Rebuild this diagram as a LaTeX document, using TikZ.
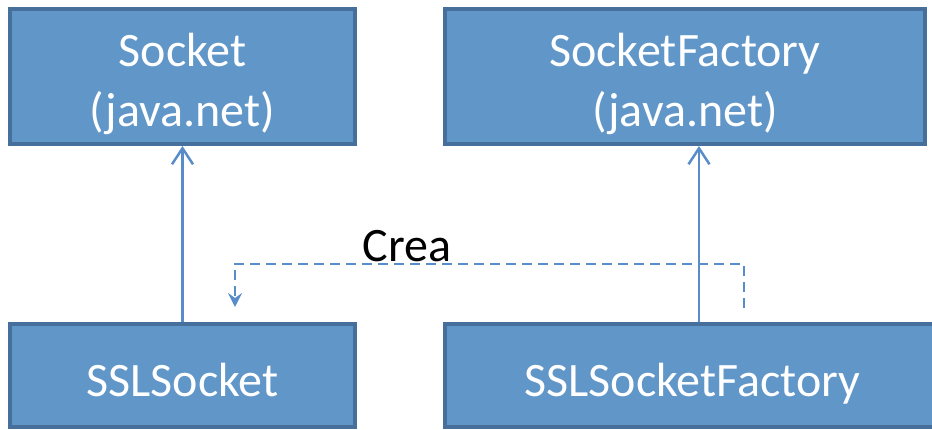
\documentclass[tikz,border=0pt]{standalone}
\usepackage{fontspec}
\setmainfont{Carlito}
\usetikzlibrary{arrows.meta}
\definecolor{boxfill}{RGB}{97,150,201}
\definecolor{boxline}{RGB}{70,112,155}
\definecolor{arrowc}{RGB}{88,141,201}
\begin{document}
\begin{tikzpicture}[x=1pt,y=-1pt,
  classbox/.style={draw=boxline,fill=boxfill,line width=4pt,rectangle,
    text=white,align=center,inner sep=0pt,
    font=\fontsize{48}{60}\selectfont},
  inherit/.style={draw=arrowc,line width=2.5pt,
    -{Straight Barb[length=16pt,width=21pt,line width=2.5pt]}},
  creates/.style={draw=arrowc,line width=2pt,dash pattern=on 10pt off 6pt,
    -{Stealth[length=14pt,width=14pt,inset=5pt]}}]
\useasboundingbox (0,0) rectangle (932,429);
\node[classbox,minimum width=345pt,minimum height=135pt,text height=105pt,text depth=6pt] (sock) at (182.5,76.5) {Socket\\(java.net)};
\node[classbox,minimum width=480pt,minimum height=135pt,text height=105pt,text depth=6pt] (sfac) at (685,76.5) {SocketFactory\\(java.net)};
\node[classbox,minimum width=345pt,minimum height=103pt,text height=42.4pt,text depth=0pt] (sslsock) at (182.5,375.5) {SSLSocket};
\node[classbox,minimum width=495pt,minimum height=103pt,text height=42.4pt,text depth=0pt] (sslfac) at (692.5,375.5) {SSLSocketFactory};
\coordinate (rx) at (699,0);
\draw[inherit] (sslsock.north) -- (sock.south);
\draw[inherit] (sslfac.north -| rx) -- (sfac.south -| rx);
\coordinate (cstart) at (744,308);
\coordinate (cend) at (235,307);
\coordinate (cy) at (0,263.6);
\draw[creates] (cstart) -- (cstart |- cy) -- (cend |- cy) -- (cend);
\node[anchor=base,inner sep=0pt,font=\fontsize{48}{60}\selectfont] (crea) at (407,261) {Crea};
\end{tikzpicture}
\end{document}
